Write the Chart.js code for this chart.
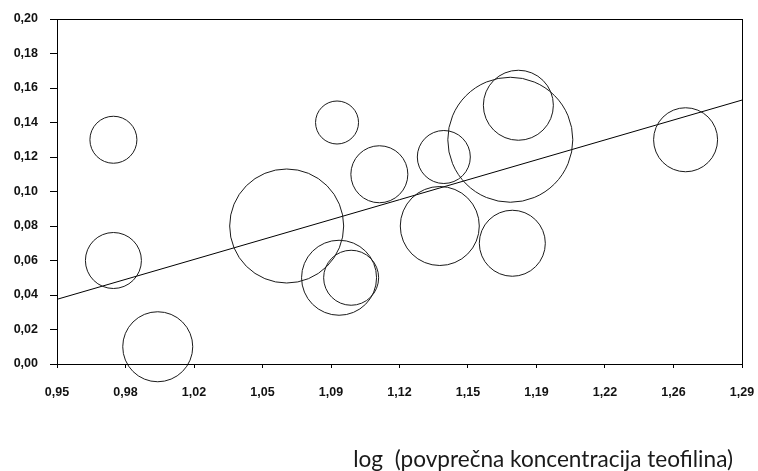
<!DOCTYPE html>
<html lang="sl">
<head>
<meta charset="utf-8">
<title>Teofilin</title>
<script src="https://cdn.jsdelivr.net/npm/chart.js@4/dist/chart.umd.min.js"></script>
<style>
  html, body { margin: 0; padding: 0; background: #fff; }
  #okvir { width: 758px; height: 471px; }
</style>
</head>
<body>
<div id="okvir"><canvas id="graf"></canvas></div>
<script>
// podatki, odčitani s slike
const xVrednosti = [0.978, 0.978, 1.000, 1.064, 1.089, 1.090, 1.096, 1.110, 1.142, 1.140, 1.176, 1.175, 1.179, 1.262];
const yVrednosti = [0.13, 0.06, 0.01, 0.08, 0.14, 0.05, 0.05, 0.11, 0.12, 0.08, 0.07, 0.13, 0.15, 0.13];
const utezi = [23.5, 28, 35, 57, 21.5, 37.5, 27.5, 28.5, 26.5, 39.5, 33, 62.5, 35, 32];

// regresijska premica (krajišči)
const premicaX = [0.95, 1.29];
const premicaY = [0.0375, 0.153];

const xOznake = ['0,95', '0,98', '1,02', '1,05', '1,09', '1,12', '1,15', '1,19', '1,22', '1,26', '1,29'];
const yOznake = ['0,00', '0,02', '0,04', '0,06', '0,08', '0,10', '0,12', '0,14', '0,16', '0,18', '0,20'];

const naslovX = 'log  (povprečna koncentracija teofilina)';

const mehurcki = xVrednosti.map((x, i) => ({ x: x, y: yVrednosti[i], r: utezi[i] }));
const premica = premicaX.map((x, i) => ({ x: x, y: premicaY[i] }));

// okvir okoli območja grafa
const okvirPlugin = {
    id: 'okvirPlugin',
    afterDatasetsDraw(chart) {
        const { ctx, chartArea: a } = chart;
        ctx.save();
        ctx.strokeStyle = '#000';
        ctx.lineWidth = 1;
        ctx.strokeRect(a.left + 0.5, a.top + 0.5, a.right - a.left, a.bottom - a.top);
        ctx.restore();
    }
};

// naslov osi x, poravnan desno
const naslovPlugin = {
    id: 'naslovPlugin',
    afterDraw(chart) {
        const { ctx, chartArea: a } = chart;
        ctx.save();
        ctx.font = '22.6px Lato, "Open Sans", sans-serif';
        ctx.fillStyle = '#1a1a1a';
        ctx.textAlign = 'right';
        ctx.textBaseline = 'alphabetic';
        ctx.fillText(naslovX, a.right - 9, 467);
        ctx.restore();
    }
};

const pisavaOznak = { family: '"Liberation Sans", Arial, sans-serif', size: 12.5, weight: 'bold' };

new Chart(document.getElementById('graf'), {
    type: 'bubble',
    data: {
        datasets: [{
            label: 'meritve',
            data: mehurcki,
            backgroundColor: 'rgba(0,0,0,0)',
            borderColor: '#1a1a1a',
            borderWidth: 1,
            hoverRadius: 0,
            clip: false
        }, {
            type: 'line',
            label: 'premica',
            data: premica,
            borderColor: '#000',
            borderWidth: 1,
            pointRadius: 0,
            fill: false
        }]
    },
    options: {
        responsive: true,
        maintainAspectRatio: false,
        animation: false,
        layout: { autoPadding: false, padding: { top: 19, right: 16, left: 0, bottom: 0 } },
        plugins: {
            legend: { display: false },
            tooltip: { enabled: false }
        },
        scales: {
            x: {
                type: 'linear',
                min: 0.95,
                max: 1.29,
                ticks: {
                    stepSize: 0.034,
                    color: '#111',
                    font: pisavaOznak,
                    padding: 17,
                    maxRotation: 0,
                    autoSkip: false,
                    callback: (v, i) => xOznake[i]
                },
                grid: { display: true, drawOnChartArea: false, drawTicks: true, tickLength: 4, color: '#000' },
                border: { display: true, color: '#000', width: 1 },
                afterFit: (s) => {
                    s.height = 107;
                    s.paddingLeft = 0;
                    s.paddingRight = 0;
                }
            },
            y: {
                min: 0,
                max: 0.2,
                ticks: {
                    stepSize: 0.02,
                    color: '#111',
                    font: pisavaOznak,
                    padding: 12,
                    autoSkip: false,
                    callback: (v, i) => yOznake[i]
                },
                grid: { display: true, drawOnChartArea: false, drawTicks: true, tickLength: 7, color: '#000' },
                border: { display: true, color: '#000', width: 1 },
                afterFit: (s) => {
                    s.width = 57;
                    s.paddingTop = 0;
                    s.paddingBottom = 0;
                }
            }
        }
    },
    plugins: [okvirPlugin, naslovPlugin]
});
</script>
</body>
</html>
